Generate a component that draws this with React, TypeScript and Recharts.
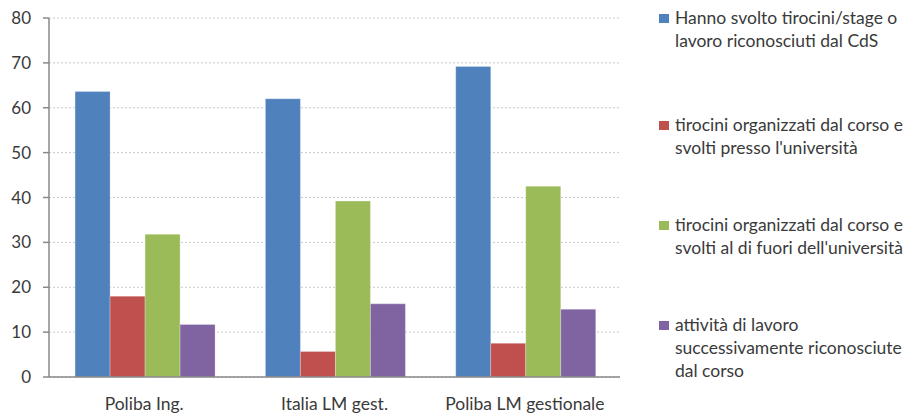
import { BarChart, Bar, XAxis, YAxis, CartesianGrid } from "recharts";

const categories = ["Poliba Ing.", "Italia LM gest.", "Poliba LM gestionale"];

const seriesNames = [
  "Hanno svolto tirocini/stage o\nlavoro riconosciuti dal CdS",
  "tirocini organizzati dal corso e\nsvolti presso l'università",
  "tirocini organizzati dal corso e\nsvolti al di fuori dell'università",
  "attività di lavoro\nsuccessivamente riconosciute\ndal corso",
];

const stageLavoro = [63.6, 62.0, 69.2];
const pressoUniversita = [18.0, 5.7, 7.5];
const fuoriUniversita = [31.8, 39.2, 42.5];
const attivitaLavoro = [11.7, 16.3, 15.1];

const yTicks = [0, 10, 20, 30, 40, 50, 60, 70, 80];
const boundaryTicks = [0, 1, 2, 3];

const colors = ["#4F81BD", "#C0504D", "#9BBB59", "#8064A2"];
const keys = ["s1", "s2", "s3", "s4"];

const data = categories.map((name, i) => ({
  name,
  s1: stageLavoro[i],
  s2: pressoUniversita[i],
  s3: fuoriUniversita[i],
  s4: attivitaLavoro[i],
}));

const FONT = "Lato, sans-serif";
const TEXT = "#3a3a3a";
const AXIS = "#898989";

// spacing before each legend item (mimics the Excel layout)
const legendGaps = [6, 61, 54, 54];

function ChartLegend() {
  return (
    <div
      style={{
        position: "absolute",
        left: 659,
        top: 0,
        width: 258,
        fontFamily: FONT,
        fontSize: 17.5,
        color: TEXT,
        lineHeight: "23px",
      }}
    >
      {seriesNames.map((n, i) => (
        <div key={i} style={{ display: "flex", marginTop: legendGaps[i] }}>
          <span
            style={{
              width: 10,
              height: 9,
              background: colors[i],
              marginTop: 8,
              marginRight: 6,
              flexShrink: 0,
            }}
          />
          <span style={{ whiteSpace: "pre" }}>{n}</span>
        </div>
      ))}
    </div>
  );
}

export default function App() {
  return (
    <div style={{ position: "absolute", left: 0, top: 0, width: 917, height: 417, background: "#fff", overflow: "hidden" }}>
      <BarChart
        width={917}
        height={417}
        data={data}
        margin={{ top: 18, right: 297, bottom: 0, left: 0 }}
        barCategoryGap="13.7%"
        barGap={0}
      >
        <CartesianGrid
          vertical={false}
          stroke="#c8c8c8"
          strokeDasharray="2 2"
        />
        <XAxis
          dataKey="name"
          xAxisId="cat"
          height={40}
          interval={0}
          tickLine={false}
          axisLine={{ stroke: AXIS, strokeWidth: 1.5 }}
          tick={{ fill: TEXT, fontSize: 17.5, fontFamily: FONT }}
          tickMargin={15}
        />
        <XAxis
          xAxisId="edge"
          type="number"
          domain={[0, 3]}
          ticks={boundaryTicks}
          height={0}
          axisLine={false}
          tickLine={{ stroke: AXIS, strokeWidth: 1.5 }}
          tickSize={6}
          tick={false}
        />
        <YAxis
          width={49}
          domain={[0, 80]}
          ticks={yTicks}
          interval={0}
          axisLine={{ stroke: AXIS, strokeWidth: 1.5 }}
          tickLine={{ stroke: AXIS, strokeWidth: 1.5 }}
          tickSize={6}
          tickMargin={12}
          tick={{ fill: TEXT, fontSize: 17, fontFamily: FONT }}
        />
        {keys.map((k, i) => (
          <Bar
            key={k}
            dataKey={k}
            xAxisId="cat"
            name={seriesNames[i]}
            fill={colors[i]}
            stroke="#ffffff"
            strokeOpacity={0.5}
            strokeWidth={0.5}
            isAnimationActive={false}
          />
        ))}
      </BarChart>
      <ChartLegend />
    </div>
  );
}
